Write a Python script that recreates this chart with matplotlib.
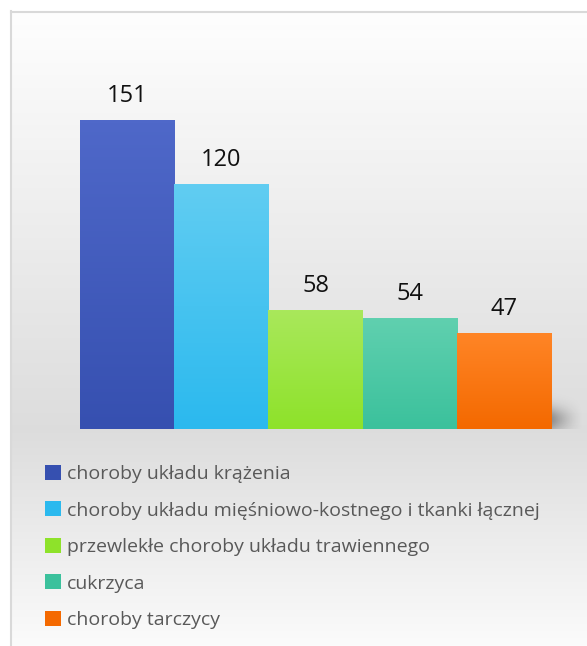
import numpy as np
import matplotlib
matplotlib.use('Agg')
import matplotlib.pyplot as plt
from matplotlib.patches import Rectangle, Patch
from matplotlib.colors import to_rgb

plt.rcParams['font.family'] = ['Open Sans', 'DejaVu Sans']

# data
categories = ['choroby układu krążenia',
              'choroby układu mięśniowo-kostnego i tkanki łącznej',
              'przewlekłe choroby układu trawiennego',
              'cukrzyca',
              'choroby tarczycy']
values = [151, 120, 58, 54, 47]
top_colors = ['#4f68c9', '#61cdf2', '#a9e85b', '#60d0af', '#ff8526']
bottom_colors = ['#3650b0', '#2bb9ee', '#8ee22a', '#3bc19c', '#f46900']

W, H = 587, 646
fig = plt.figure(figsize=(W / 100, H / 100), dpi=100)

# background gradient (white -> grey at plot floor -> white)
bg = fig.add_axes([0, 0, 1, 1], zorder=-10)
yy = np.arange(H)
g = np.interp(yy, [0, 430, H], [1.0, 0.865, 0.985])
img = np.repeat(g[:, None], 4, axis=1)
bg.imshow(np.dstack([img, img, img]), aspect='auto', extent=[0, 1, 0, 1], origin='upper')
bg.set_axis_off()

# chart frame
fig.add_artist(Rectangle((0, 0), 10 / W, 1, transform=fig.transFigure, color='white', zorder=-5))
fig.add_artist(Rectangle((0, 1 - 11 / H), 1, 11 / H, transform=fig.transFigure, color='white', zorder=-5))
fig.add_artist(plt.Line2D([10.5 / W, 10.5 / W], [0, 1 - 11 / H], transform=fig.transFigure,
                          color='#d9d9d9', lw=1.5))
fig.add_artist(plt.Line2D([10.5 / W, 1], [1 - 11.5 / H, 1 - 11.5 / H], transform=fig.transFigure,
                          color='#d9d9d9', lw=1.5))

ax = fig.add_axes([80 / W, (H - 429) / H, 471 / W, 408 / H])
ax.set_xlim(-0.5, 4.5)
ax.set_ylim(0, 200)
ax.set_axis_off()

x = np.arange(len(values))

# shadow to the right of the last bar
sh_w, sh_h = 60, 40
sx = np.linspace(0, 1, sh_w)
sy = np.linspace(0, 1, sh_h)
SX, SY = np.meshgrid(sx, sy)
alpha = np.clip(1 - SX, 0, 1) ** 1.5 * np.exp(-((SY - 0.75) / 0.35) ** 2) * 0.45
shadow = np.zeros((sh_h, sh_w, 4))
shadow[..., 3] = alpha
ax.imshow(shadow, extent=[4.45, 4.85, 0, 18], aspect='auto', origin='upper', zorder=1, clip_on=False)

bars = ax.bar(x, values, width=1.0, color='none', edgecolor='none', zorder=2)
for b, c1, c2 in zip(bars, top_colors, bottom_colors):
    r1, r2 = np.array(to_rgb(c1)), np.array(to_rgb(c2))
    t = np.linspace(0, 1, 100)[:, None]
    grad = (r1 * (1 - t) + r2 * t)[:, None, :]
    im = ax.imshow(grad, extent=[b.get_x(), b.get_x() + b.get_width(), 0, b.get_height()],
                   aspect='auto', origin='upper', zorder=3)

for xi, v in zip(x, values):
    ax.annotate(str(v), (xi, v), xytext=(0, 9), textcoords='offset points',
                ha='center', va='bottom', fontsize=17, color='#111111')

handles = [Patch(facecolor=c, edgecolor='none') for c in bottom_colors]
leg = fig.legend(handles, categories, loc='upper left', bbox_to_anchor=(45 / W, 1 - 465 / H),
                 frameon=False, fontsize=14, labelcolor='#595959',
                 handlelength=0.8, handleheight=0.8, handletextpad=0.34,
                 labelspacing=0.94, borderpad=0, borderaxespad=0)

fig.savefig('out.png', dpi=100)
